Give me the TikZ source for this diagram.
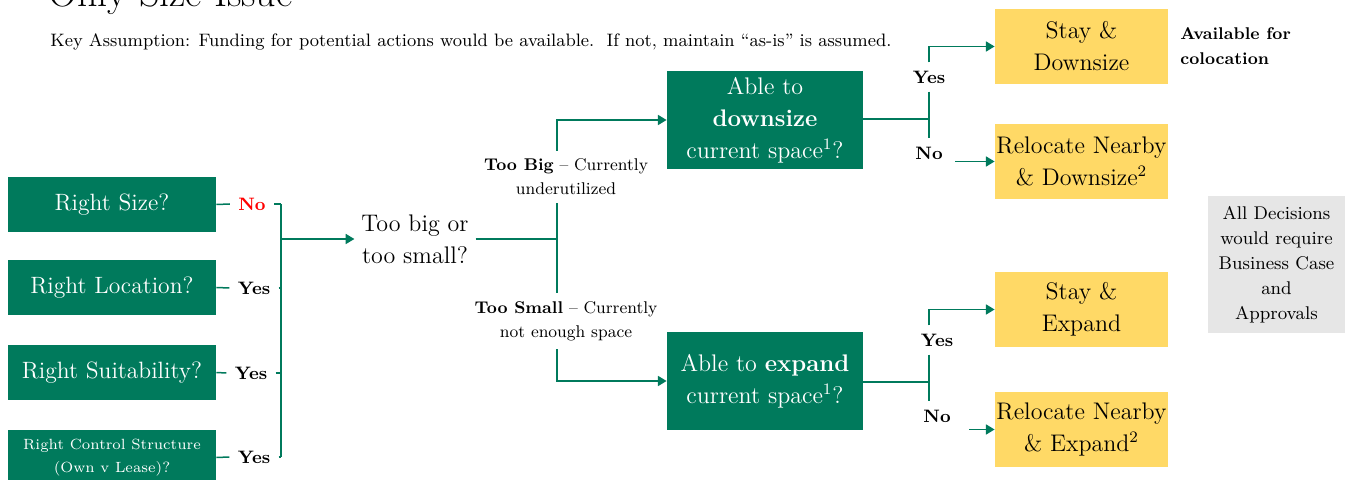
\documentclass[tikz,border=0pt]{standalone}
\usepackage{tikz}
\usetikzlibrary{arrows.meta,positioning}
\definecolor{sgreen}{RGB}{0,122,92}
\definecolor{syellow}{RGB}{255,217,102}
\definecolor{sgrey}{RGB}{230,230,230}
\tikzset{%
  tipA/.tip={Triangle[angle=60:5pt]},
  conn/.style={sgreen, line width=0.75pt},
  arr/.style={conn, -tipA},
  qbox/.style={fill=sgreen, text=white, align=center, inner sep=0pt,
    minimum width=104pt, minimum height=27.5pt, font=\fontsize{11.8}{13}\selectfont},
  abox/.style={fill=sgreen, text=white, align=center, inner sep=0pt,
    minimum width=98pt, minimum height=49pt, font=\fontsize{12}{16}\selectfont},
  ybox/.style={fill=syellow, align=center, inner sep=0pt,
    minimum width=86.5pt, minimum height=37.5pt, font=\fontsize{12}{16}\selectfont},
  ans/.style={font=\bfseries\fontsize{9}{10}\selectfont, inner sep=4pt},
  branch/.style={align=center, font=\fontsize{8.5}{12}\selectfont, inner sep=4pt}
}
\begin{document}
\begin{tikzpicture}[x=0.5pt,y=-0.5pt]
\useasboundingbox (0,0) rectangle (1348,480);
% heading
\node[anchor=base west, inner sep=0pt, font=\fontsize{20}{22}\selectfont] (title) at (48,7) {Only Size Issue};
\node[anchor=base west, inner sep=0pt, font=\fontsize{9}{10}\selectfont] (keyA) at (50,47)
  {Key Assumption: Funding for potential actions would be available.\ \ If not, maintain ``as-is'' is assumed.};
% questions on the left
\node[qbox] (size) at (112,204.5) {Right Size?};
\node[qbox] (loc) at (112,287.5) {Right Location?};
\node[qbox] (suit) at (112,372.5) {Right Suitability?};
\node[qbox, font=\fontsize{7.4}{11.5}\selectfont] (ctrl) at (112,457.5) {Right Control Structure\\(Own v Lease)?};
\node[ans, text=red] (aSize) at (252,204) {No};
\node[ans] (aLoc) at (254,288) {Yes};
\node[ans] (aSuit) at (251,373) {Yes};
\node[ans] (aCtrl) at (254,457) {Yes};
\coordinate (brk) at (281,239);
\foreach \q/\a in {size/aSize,loc/aLoc,suit/aSuit,ctrl/aCtrl}{
  \draw[conn] (\q.east) -- (\a.west);
  \draw[conn] (\a.east) -- (\a.east -| brk);
}
\draw[conn] (aSize.east -| brk) -- (aCtrl.east -| brk);
% too big or too small
\node[align=center, font=\fontsize{12}{16}\selectfont] (bigsmall) at (415,239) {Too big or\\too small?};
\draw[arr] (brk) -- (bigsmall.west);
\coordinate (fork) at (557,239);
\draw[conn] (bigsmall.east) -- (fork);
\node[branch] (big) at (566,177) {\textbf{Too Big} -- Currently\\underutilized};
\node[branch] (small) at (566,321) {\textbf{Too Small} -- Currently\\not enough space};
\draw[conn] (big.south -| fork) -- (small.north -| fork);
\node[abox] (down) at (765,120) {Able to\\\textbf{downsize}\\current space\textsuperscript{1}?};
\node[abox] (expand) at (765,381) {Able to \textbf{expand}\\current space\textsuperscript{1}?};
\draw[arr] (big.north -| fork) |- (down.west);
\draw[arr] (small.south -| fork) |- (expand.west);
% outcomes
\node[ybox] (stayD) at (1081.5,46.5) {Stay \&\\Downsize};
\node[ybox] (moveD) at (1081.5,161.5) {Relocate Nearby\\\& Downsize\textsuperscript{2}};
\node[ybox] (stayE) at (1081.5,309.5) {Stay \&\\Expand};
\node[ybox] (moveE) at (1081.5,429.5) {Relocate Nearby\\\& Expand\textsuperscript{2}};
\coordinate (forkD) at (929,119);
\coordinate (forkE) at (929,382);
\node[ans] (yesD) at (929,77) {Yes};
\node[ans] (noD) at (929,153) {No};
\node[ans] (yesE) at (937,340) {Yes};
\node[ans] (noE) at (937,416) {No};
\draw[conn] (down.east |- forkD) -- (forkD);
\draw[conn] (yesD.south -| forkD) -- (noD.north -| forkD);
\draw[arr] (yesD.north -| forkD) |- (stayD.west);
\draw[arr] ([xshift=2pt]noD.east |- moveD.west) -- (moveD.west);
\draw[conn] (expand.east |- forkE) -- (forkE);
\draw[conn] (yesE.south -| forkE) -- (noE.north -| forkE);
\draw[arr] (yesE.north -| forkE) |- (stayE.west);
\draw[arr] ([xshift=5pt]noE.east |- moveE.west) -- (moveE.west);
% notes
\node[anchor=north west, align=left, inner sep=0pt, font=\bfseries\fontsize{8.5}{12.5}\selectfont] (coloc) at (1180,27)
  {Available for\\colocation};
\node[fill=sgrey, align=center, inner sep=0pt, minimum width=68.5pt, minimum height=68.5pt,
  font=\fontsize{9.2}{12.5}\selectfont] (note) at (1276.5,264.5)
  {All Decisions\\would require\\Business Case\\and\\Approvals};
\end{tikzpicture}
\end{document}
